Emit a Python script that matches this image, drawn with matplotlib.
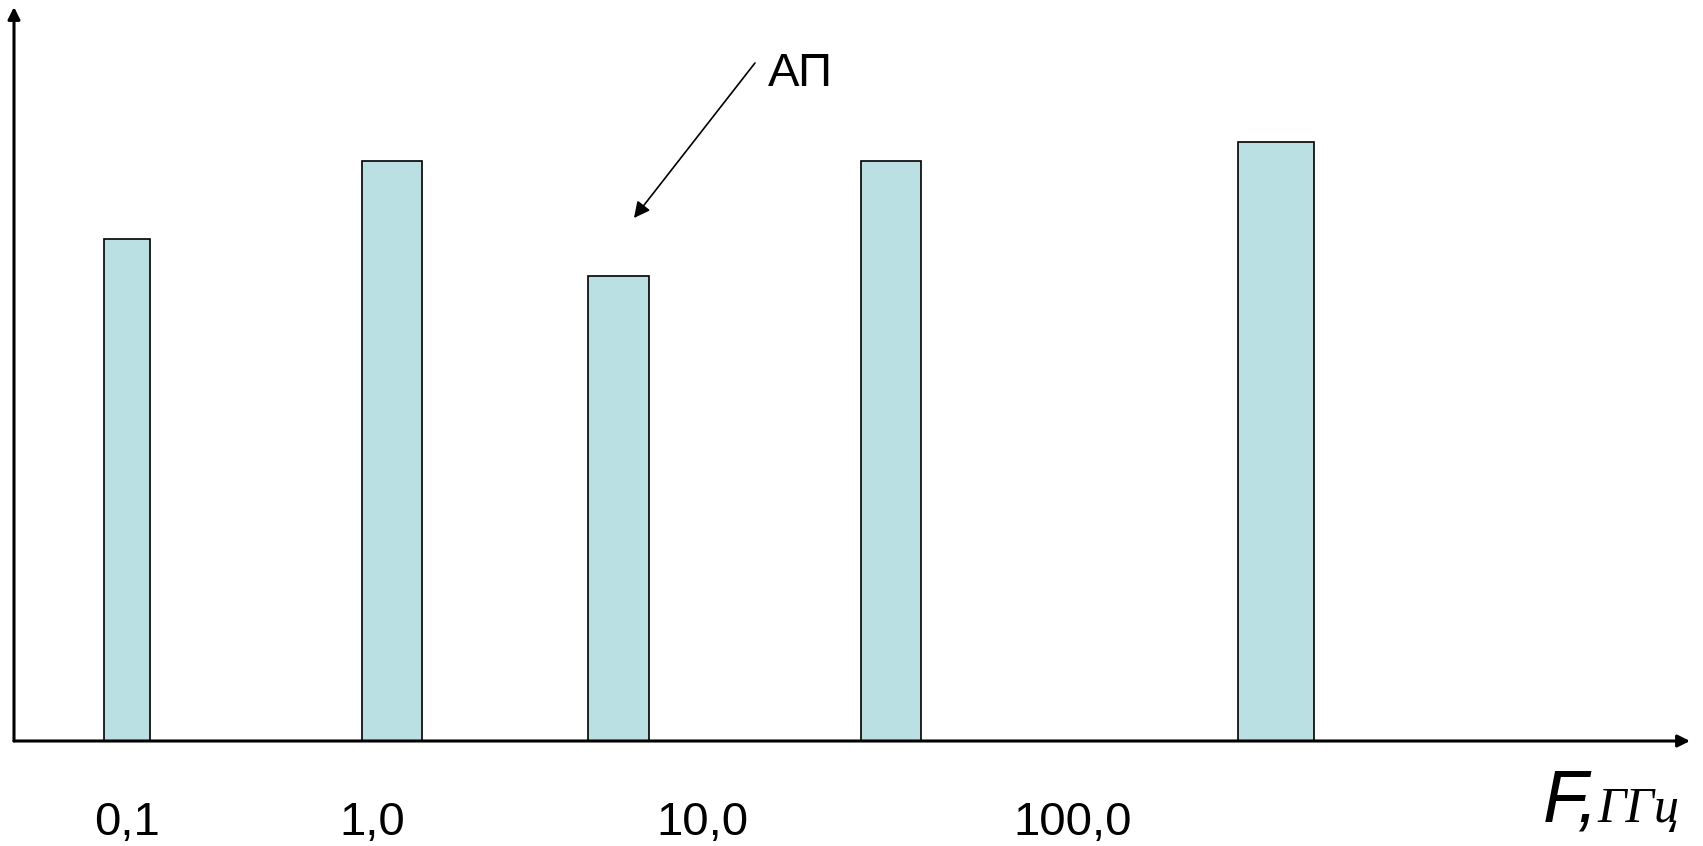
import matplotlib.pyplot as plt

# bar data (arbitrary units: x axis 0..100, y axis 0..100)
bar_centers = [6.74, 22.53, 36.06, 52.31, 75.30]
bar_heights = [68.4, 79.0, 63.3, 79.0, 81.6]
bar_widths = [2.74, 3.58, 3.62, 3.58, 4.53]

tick_pos = [6.74, 21.36, 41.05, 63.19]
tick_labels = ["0,1", "1,0", "10,0", "100,0"]

fig = plt.figure(figsize=(17.03, 8.46), dpi=100)
ax = fig.add_axes([14 / 1703, 105 / 846, 1676 / 1703, 734 / 846])
ax.set_xlim(0, 100)
ax.set_ylim(0, 100)
ax.axis("off")

ax.bar(bar_centers, bar_heights, width=bar_widths, color="#BBE0E3",
       edgecolor="black", linewidth=1.2, zorder=2)

# axes with arrows
ax.annotate("", xy=(100, 0), xytext=(0, 0),
            arrowprops=dict(arrowstyle="-|>", lw=2.2, color="black",
                            mutation_scale=18, shrinkA=0, shrinkB=0),
            annotation_clip=False)
ax.annotate("", xy=(0, 100), xytext=(0, 0),
            arrowprops=dict(arrowstyle="-|>", lw=2.2, color="black",
                            mutation_scale=18, shrinkA=0, shrinkB=0),
            annotation_clip=False)

for x, lab in zip(tick_pos, tick_labels):
    ax.text(x, -12.8, lab, ha="center", va="baseline", fontsize=34,
            family="Liberation Sans", clip_on=False)

ax.text(91.2, -11.0, "F,", ha="left", va="baseline", fontsize=53,
        family="Liberation Sans", style="italic", clip_on=False)
ax.text(94.5, -11.0, "ГГц", ha="left", va="baseline", fontsize=36,
        family="Liberation Serif", style="italic", clip_on=False)

# АП pointer
ax.text(45.0, 89.2, "АП", ha="left", va="baseline", fontsize=34,
        family="Liberation Sans")
ax.annotate("", xy=(36.99, 71.25), xytext=(44.21, 92.37),
            arrowprops=dict(arrowstyle="-|>", lw=1.2, color="black",
                            mutation_scale=24, shrinkA=0, shrinkB=0))

fig.savefig("out.png", dpi=100)
